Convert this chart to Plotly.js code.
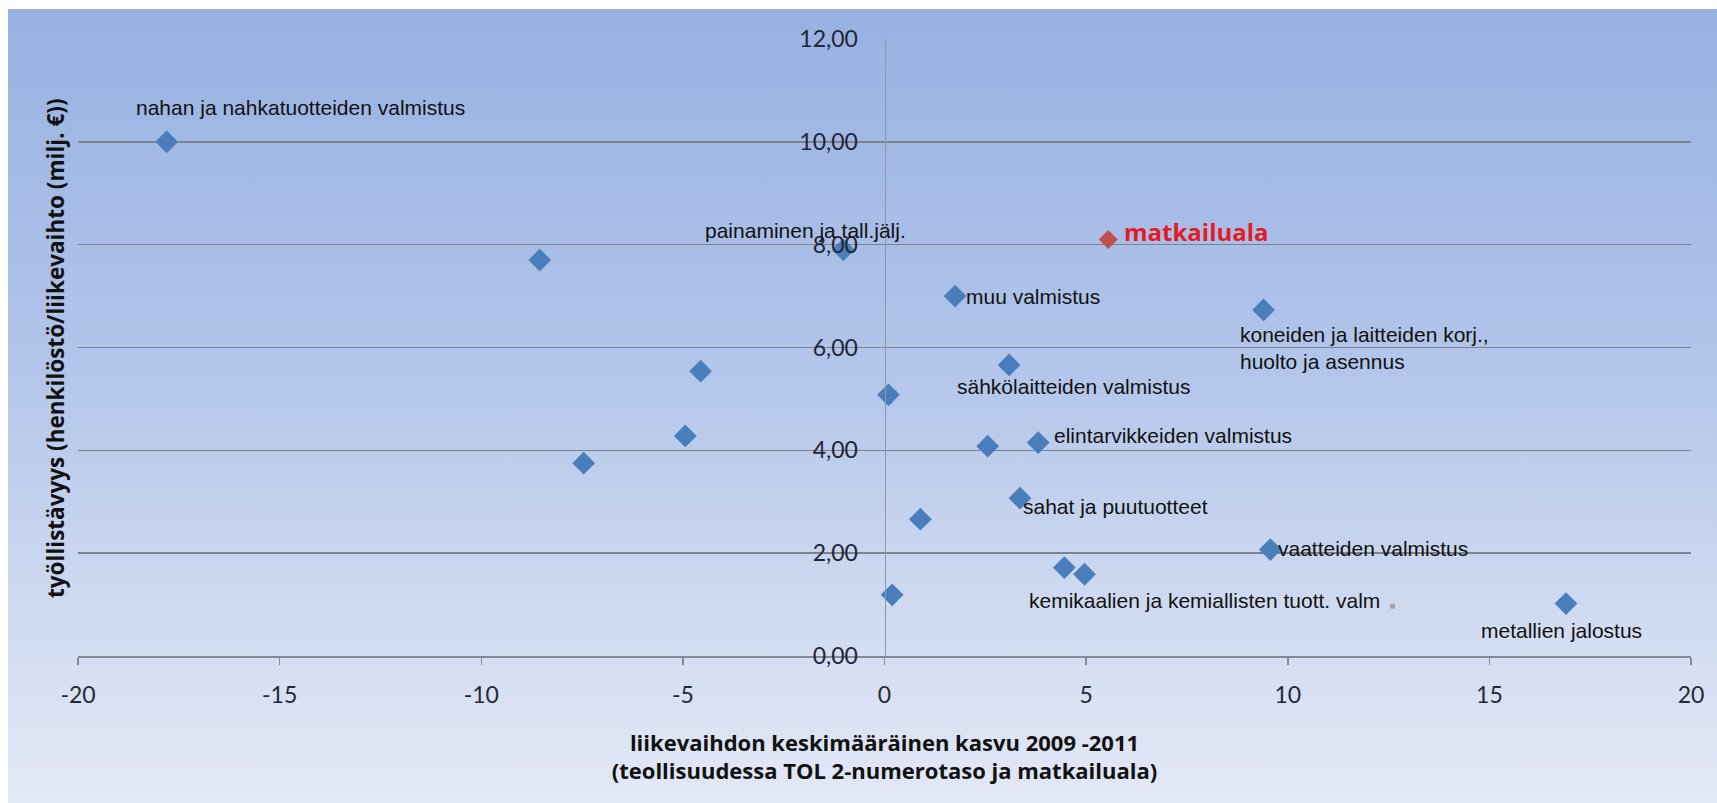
<!DOCTYPE html>
<html>
<head>
<meta charset="utf-8">
<script src="https://cdn.plot.ly/plotly-3.0.1.min.js"></script>
<style>
  html, body { margin: 0; padding: 0; background: #ffffff; }
  #wrap { position: relative; width: 1717px; height: 803px; overflow: hidden; }
  #bg { position: absolute; left: 8px; top: 9px; right: 0; bottom: 0;
        background: linear-gradient(to bottom, #97b1e2 0%, #b2c5ea 45%, #d3ddf1 80%, #e3e8f5 100%); }
  #chart { position: absolute; left: 0; top: 0; width: 1717px; height: 803px; }
</style>
</head>
<body>
<div id="wrap"><div id="bg"></div><div id="chart"></div></div>
<script>
// ---- data ----
const industryLabels = [
  'nahan ja nahkatuotteiden valmistus', '', '', 'painaminen ja tall.jälj.',
  'muu valmistus', 'koneiden ja laitteiden korj.,<br>huolto ja asennus',
  'sähkölaitteiden valmistus', '', '', '', '', 'elintarvikkeiden valmistus',
  'sahat ja puutuotteet', '', 'vaatteiden valmistus', '', '', '', 'metallien jalostus'
];
const industryGrowth = [-17.8, -8.55, -4.56, -1.02, 1.75, 9.4, 3.09, 0.1, -7.46, -4.94, 2.56, 3.81, 3.36, 0.89, 9.57, 4.46, 4.96, 0.19, 16.9];
const industryEmployment = [10.0, 7.70, 5.54, 7.9, 7.0, 6.73, 5.66, 5.08, 3.75, 4.28, 4.08, 4.15, 3.07, 2.66, 2.07, 1.72, 1.59, 1.19, 1.02];

const tourismLabels = ['matkailuala'];
const tourismGrowth = [5.55];
const tourismEmployment = [8.10];

const otherLabels = ['kemikaalien ja kemiallisten tuott. valm'];
const otherGrowth = [12.6];
const otherEmployment = [0.97];

const xTickVals = [-20, -15, -10, -5, 0, 5, 10, 15, 20];
const xTickLabels = ['-20', '-15', '-10', '-5', '0', '5', '10', '15', '20'];
const yTickVals = [0, 2, 4, 6, 8, 10, 12];
const yTickLabels = ['0,00', '2,00', '4,00', '6,00', '8,00', '10,00', '12,00'];

// ---- label placement (pixel offsets from the marker) ----
const labelPlacement = {
  'nahan ja nahkatuotteiden valmistus': {xanchor: 'left', xshift: -33, yshift: 34},
  'painaminen ja tall.jälj.': {xanchor: 'left', xshift: -140, yshift: 19},
  'muu valmistus': {xanchor: 'left', xshift: 9, yshift: 0},
  'koneiden ja laitteiden korj.,<br>huolto ja asennus': {xanchor: 'left', xshift: -26, yshift: -38},
  'sähkölaitteiden valmistus': {xanchor: 'left', xshift: -54, yshift: -22},
  'elintarvikkeiden valmistus': {xanchor: 'left', xshift: 14, yshift: 7},
  'sahat ja puutuotteet': {xanchor: 'left', xshift: 1, yshift: -8},
  'vaatteiden valmistus': {xanchor: 'left', xshift: 6, yshift: 1},
  'metallien jalostus': {xanchor: 'center', xshift: -4, yshift: -27},
  'matkailuala': {xanchor: 'left', xshift: 14, yshift: 8},
  'kemikaalien ja kemiallisten tuott. valm': {xanchor: 'right', xshift: -11, yshift: 6}
};

const labelFont = {family: 'Liberation Sans, Arial, sans-serif', size: 21, color: '#111111'};
const tourismFont = {family: 'Open Sans, sans-serif', size: 24, color: '#e41b23', weight: 'bold'};

function makeAnnotations(labels, xs, ys, font) {
  const out = [];
  labels.forEach((t, i) => {
    if (!t) return;
    const p = labelPlacement[t] || {xanchor: 'left', xshift: 10, yshift: 0};
    out.push({
      x: xs[i], y: ys[i], xref: 'x', yref: 'y', text: t, showarrow: false,
      xanchor: p.xanchor, yanchor: 'middle', xshift: p.xshift, yshift: p.yshift,
      align: 'left', font: font
    });
  });
  return out;
}

const traces = [
  {
    type: 'scatter', mode: 'markers', x: industryGrowth, y: industryEmployment,
    marker: {symbol: 'diamond', size: 17.5, color: '#4a7ebb', line: {width: 0}},
    hoverinfo: 'x+y', showlegend: false
  },
  {
    type: 'scatter', mode: 'markers', x: tourismGrowth, y: tourismEmployment,
    marker: {symbol: 'diamond', size: 14.5, color: '#c0504d', line: {width: 0}},
    hoverinfo: 'x+y', showlegend: false
  },
  {
    type: 'scatter', mode: 'markers', x: otherGrowth, y: otherEmployment,
    marker: {symbol: 'square', size: 5, color: '#a6a6a6', line: {width: 0}},
    hoverinfo: 'x+y', showlegend: false
  }
];

const annotations = []
  .concat(makeAnnotations(industryLabels, industryGrowth, industryEmployment, labelFont))
  .concat(makeAnnotations(tourismLabels, tourismGrowth, tourismEmployment, tourismFont))
  .concat(makeAnnotations(otherLabels, otherGrowth, otherEmployment, labelFont));

annotations.push({
  xref: 'paper', yref: 'paper', x: -0.0135, y: 0.498, textangle: -90,
  text: 'työllistävyys (henkilöstö/liikevaihto (milj. €))', showarrow: false,
  xanchor: 'center', yanchor: 'middle',
  font: {family: 'Open Sans, sans-serif', size: 22.5, color: '#111111', weight: 'bold'}
});

const layout = {
  width: 1717, height: 803,
  margin: {l: 78, r: 26, t: 39, b: 147, pad: 0},
  paper_bgcolor: 'rgba(0,0,0,0)', plot_bgcolor: 'rgba(0,0,0,0)',
  showlegend: false,
  xaxis: {
    range: [-20, 20], tickvals: xTickVals, ticktext: xTickLabels,
    showgrid: false, zeroline: false, showline: true,
    linecolor: '#868a92', linewidth: 1.5,
    ticks: 'outside', ticklen: 7, tickwidth: 1.5, tickcolor: '#868a92',
    tickfont: {family: 'Lato, sans-serif', size: 23, color: '#222a38'},
    ticklabelstandoff: 11,
    title: {
      text: 'liikevaihdon keskimääräinen kasvu 2009 -2011<br>(teollisuudessa TOL 2-numerotaso ja matkailuala)',
      font: {family: 'Open Sans, sans-serif', size: 22, color: '#111111', weight: 'bold'},
      standoff: 28
    },
    fixedrange: true
  },
  yaxis: {
    range: [0, 12], tickvals: yTickVals, ticktext: yTickLabels,
    anchor: 'free', position: 0.5,
    showgrid: true, gridcolor: '#7d828c', gridwidth: 1.5,
    zeroline: false, showline: true, linecolor: '#8b97aa', linewidth: 1,
    ticks: '', ticklabelstandoff: 22,
    tickfont: {family: 'Lato, sans-serif', size: 23, color: '#1f2636'},
    fixedrange: true
  },
  annotations: annotations
};

Plotly.newPlot('chart', traces, layout, {displayModeBar: false, staticPlot: true});
</script>
</body>
</html>
